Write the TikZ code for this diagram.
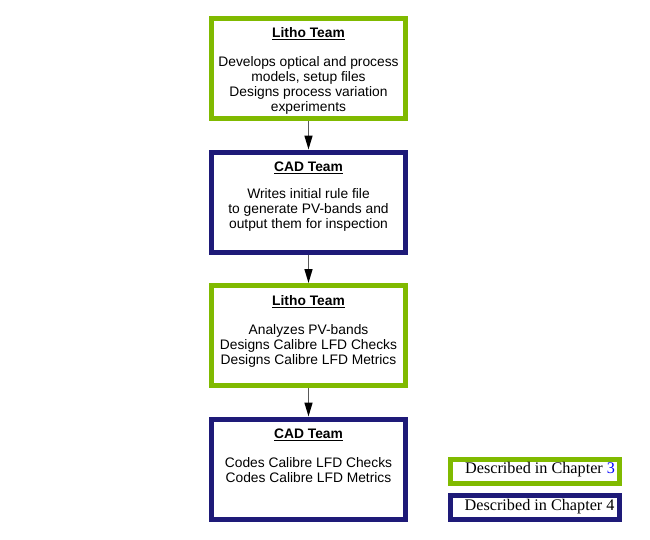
\documentclass[tikz,border=0pt]{standalone}
\usepackage{fontspec}
\setmainfont{Liberation Serif}
\newfontfamily\teamfont{Liberation Sans}
\usepackage{tikz}
\usetikzlibrary{positioning,arrows.meta}
\definecolor{lithogreen}{RGB}{128,186,0}
\definecolor{cadblue}{RGB}{30,26,120}
\definecolor{linkblue}{RGB}{0,0,255}

\tikzset{
	teambox/.style={draw=#1,line width=5pt,fill=white,minimum width=194pt,minimum height=100pt,inner sep=0pt},
	teamtext/.style={anchor=north,align=center,inner sep=0pt,font=\teamfont\fontsize{13.8}{15}\selectfont},
	legendbox/.style={draw=#1,line width=5pt,fill=white,minimum width=169pt,minimum height=24pt,inner sep=0pt},
	legendtext/.style={anchor=base west,inner sep=0pt,font=\fontsize{16.2}{18}\selectfont},
	flow/.style={draw=black!65,line width=1.5pt,-{Triangle[length=14pt,width=8pt,black]}}
}

\begin{document}
\begin{tikzpicture}[x=1pt,y=1pt,node distance=28.5pt]
	%
	% Cadre de l'image
	\useasboundingbox (0,0) rectangle (650,-539);
	%
	% Boites des equipes
	\node[teambox=lithogreen] (litho1) at (308.5,-68.5) {};
	\node[teambox=cadblue,below=of litho1] (cad1) {};
	\node[teambox=lithogreen,below=of cad1] (litho2) {};
	\node[teambox=cadblue,below=of litho2] (cad2) {};
	%
	% Textes
	\node[teamtext] (litho1txt) at ([yshift=-11pt]litho1.north) {\underline{\textbf{Litho Team}}\\[14pt]Develops optical and process\\models, setup files\\Designs process variation\\experiments};
	\node[teamtext] (cad1txt) at ([yshift=-12pt]cad1.north) {\underline{\textbf{CAD Team}}\\[12pt]Writes initial rule file\\to generate PV-bands and\\output them for inspection};
	\node[teamtext] (litho2txt) at ([yshift=-12pt]litho2.north) {\underline{\textbf{Litho Team}}\\[14pt]Analyzes PV-bands\\Designs Calibre LFD Checks\\Designs Calibre LFD Metrics};
	\node[teamtext] (cad2txt) at ([yshift=-12pt]cad2.north) {\underline{\textbf{CAD Team}}\\[14pt]Codes Calibre LFD Checks\\Codes Calibre LFD Metrics};
	%
	% Fleches
	\draw[flow] (litho1) -- (cad1);
	\draw[flow] (cad1) -- (litho2);
	\draw[flow] (litho2) -- (cad2);
	%
	% Legende
	\node[legendbox=lithogreen] (leg3) at (535,-471.5) {};
	\node[legendbox=cadblue] (leg4) at (534.5,-507) {};
	\node[legendtext] (leg3txt) at ([xshift=17pt,yshift=-2pt]leg3.west) {Described in Chapter \textcolor{linkblue}{3}};
	\node[legendtext] (leg4txt) at ([xshift=17pt,yshift=-3pt]leg4.west) {Described in Chapter 4};
\end{tikzpicture}
\end{document}
